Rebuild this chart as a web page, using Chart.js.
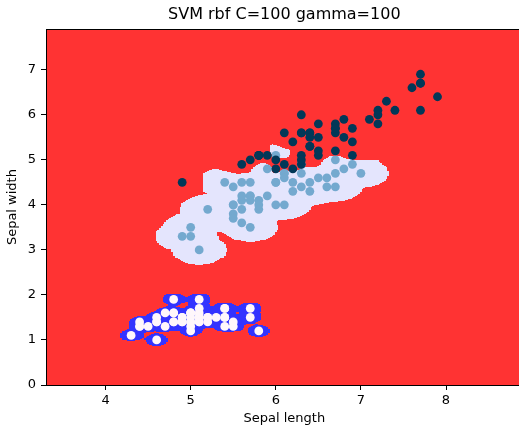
<!DOCTYPE html>
<html><head><meta charset="utf-8">
<script src="https://cdn.jsdelivr.net/npm/chart.js@4/dist/chart.umd.min.js"></script>
<style>
html,body{margin:0;padding:0;background:#fff;overflow:hidden;width:519px;height:427px}
#wrap{width:527px;height:427px}
canvas{display:block}
</style></head><body>
<div id="wrap"><canvas id="c" width="527" height="427"></canvas></div>
<script>
const titleText = 'SVM rbf C=100 gamma=100';
const xLabel = 'Sepal length';
const yLabel = 'Sepal width';
const xTicks = [4, 5, 6, 7, 8];
const yTicks = [0, 1, 2, 3, 4, 5, 6, 7];

const setosaX = [5.1,4.9,4.7,4.6,5.0,5.4,4.6,5.0,4.4,4.9,5.4,4.8,4.8,4.3,5.8,5.7,5.4,5.1,5.7,5.1,5.4,5.1,4.6,5.1,4.8,5.0,5.0,5.2,5.2,4.7,4.8,5.4,5.2,5.5,4.9,5.0,5.5,4.9,4.4,5.1,5.0,4.5,4.4,5.0,5.1,4.8,5.1,4.6,5.3,5.0];
const setosaY = [1.4,1.4,1.3,1.5,1.4,1.7,1.4,1.5,1.4,1.5,1.5,1.6,1.4,1.1,1.2,1.5,1.3,1.4,1.7,1.5,1.7,1.5,1.0,1.7,1.9,1.6,1.6,1.5,1.4,1.6,1.6,1.5,1.5,1.4,1.5,1.2,1.3,1.4,1.3,1.5,1.3,1.3,1.3,1.6,1.9,1.4,1.6,1.4,1.5,1.4];
const versicolorX = [7.0,6.4,6.9,5.5,6.5,5.7,6.3,4.9,6.6,5.2,5.0,5.9,6.0,6.1,5.6,6.7,5.6,5.8,6.2,5.6,5.9,6.1,6.3,6.1,6.4,6.6,6.8,6.7,6.0,5.7,5.5,5.5,5.8,6.0,5.4,6.0,6.7,6.3,5.6,5.5,5.5,6.1,5.8,5.0,5.6,5.7,5.7,6.2,5.1,5.7];
const versicolorY = [4.7,4.5,4.9,4.0,4.6,4.5,4.7,3.3,4.6,3.9,3.5,4.2,4.0,4.7,3.6,4.4,4.5,4.1,4.5,3.9,4.8,4.0,4.9,4.7,4.3,4.4,4.8,5.0,4.5,3.5,3.8,3.7,3.9,5.1,4.5,4.5,4.7,4.4,4.1,4.0,4.4,4.6,4.0,3.3,4.2,4.2,4.2,4.3,3.0,4.1];
const virginicaX = [6.3,5.8,7.1,6.3,6.5,7.6,4.9,7.3,6.7,7.2,6.5,6.4,6.8,5.7,5.8,6.4,6.5,7.7,7.7,6.0,6.9,5.6,7.7,6.3,6.7,7.2,6.2,6.1,6.4,7.2,7.4,7.9,6.4,6.3,6.1,7.7,6.3,6.4,6.0,6.9,6.7,6.9,5.8,6.8,6.7,6.7,6.3,6.5,6.2,5.9];
const virginicaY = [6.0,5.1,5.9,5.6,5.8,6.6,4.5,6.3,5.8,6.1,5.1,5.3,5.5,5.0,5.1,5.3,5.5,6.7,6.9,5.0,5.7,4.9,6.7,4.9,5.7,6.0,4.8,4.9,5.6,5.8,6.1,6.4,5.6,5.1,5.6,6.1,5.6,5.5,4.8,5.4,5.6,5.1,5.1,5.9,5.7,5.2,5.0,5.2,5.4,5.1];

const C_PARAM = 100;
const GAMMA = 100;
const STEP = 0.02;
const X_MIN = 3.3, X_MAX = 8.9, Y_MIN = 0, Y_MAX = 7.9;

// region colours and point colours (PuBu)
const regionColors = [[51,51,255],[228,229,253],[255,51,51]];
const pointColors = ['#fff7fb', '#74a9cf', '#023858'];

// ---- SVM (one-vs-one, libsvm style SMO) trained on the plotted points ----
const allX = [...setosaX, ...versicolorX, ...virginicaX];
const allY = [...setosaY, ...versicolorY, ...virginicaY];
const allC = [...setosaX.map(() => 0), ...versicolorX.map(() => 1), ...virginicaX.map(() => 2)];
const N = allX.length;
const K = new Float64Array(N * N);
for (let i = 0; i < N; i++) for (let j = 0; j < N; j++) {
  const dx = allX[i] - allX[j], dy = allY[i] - allY[j];
  K[i * N + j] = Math.exp(-GAMMA * (dx * dx + dy * dy));
}
function trainPair(ci, cj) {
  const idx = [], yl = [];
  for (let t = 0; t < N; t++) {
    if (allC[t] === ci) { idx.push(t); yl.push(1); }
    else if (allC[t] === cj) { idx.push(t); yl.push(-1); }
  }
  const n = idx.length, a = new Float64Array(n), G = new Float64Array(n).fill(-1);
  const Kl = (p, q) => K[idx[p] * N + idx[q]];
  const Cc = C_PARAM;
  for (let iter = 0; iter < 500000; iter++) {
    let Gmax = -Infinity, i = -1;
    for (let t = 0; t < n; t++) {
      const up = yl[t] === 1 ? a[t] < Cc : a[t] > 0;
      if (up) { const v = -yl[t] * G[t]; if (v >= Gmax) { Gmax = v; i = t; } }
    }
    if (i < 0) break;
    let Gmax2 = -Infinity, j = -1, objMin = Infinity;
    for (let t = 0; t < n; t++) {
      const low = yl[t] === 1 ? a[t] > 0 : a[t] < Cc;
      if (low) {
        const v = yl[t] * G[t];
        if (v >= Gmax2) Gmax2 = v;
        const b = Gmax + v;
        if (b > 0) {
          let q = 2 - 2 * Kl(i, t); if (q <= 0) q = 1e-12;
          const o = -b * b / q;
          if (o <= objMin) { objMin = o; j = t; }
        }
      }
    }
    if (Gmax + Gmax2 < 1e-3 || j < 0) break;
    let q = 2 - 2 * Kl(i, j); if (q <= 0) q = 1e-12;
    const b = -yl[i] * G[i] + yl[j] * G[j];
    const ai0 = a[i], aj0 = a[j];
    const s = yl[i] * ai0 + yl[j] * aj0;
    let ai = Math.min(Cc, Math.max(0, ai0 + yl[i] * b / q));
    let aj = Math.min(Cc, Math.max(0, yl[j] * (s - yl[i] * ai)));
    ai = Math.min(Cc, Math.max(0, yl[i] * (s - yl[j] * aj)));
    if (ai < 1e-12) ai = 0; if (aj < 1e-12) aj = 0;
    if (ai > Cc - 1e-12) ai = Cc; if (aj > Cc - 1e-12) aj = Cc;
    const dai = ai - ai0, daj = aj - aj0;
    a[i] = ai; a[j] = aj;
    for (let t = 0; t < n; t++) {
      G[t] += yl[t] * yl[i] * Kl(t, i) * dai + yl[t] * yl[j] * Kl(t, j) * daj;
    }
  }
  let ub = Infinity, lb = -Infinity, sum = 0, nf = 0;
  for (let t = 0; t < n; t++) {
    const yG = yl[t] * G[t];
    if (a[t] >= Cc) { if (yl[t] === -1) ub = Math.min(ub, yG); else lb = Math.max(lb, yG); }
    else if (a[t] <= 0) { if (yl[t] === 1) ub = Math.min(ub, yG); else lb = Math.max(lb, yG); }
    else { sum += yG; nf++; }
  }
  const rho = nf > 0 ? sum / nf : (ub + lb) / 2;
  const coef = new Float64Array(N);
  for (let t = 0; t < n; t++) coef[idx[t]] = a[t] * yl[t];
  return { ci, cj, coef, rho };
}
let regionGrid = null, gridNx = 0, gridNy = 0;
function computeGrid() {
  const models = [trainPair(0, 1), trainPair(0, 2), trainPair(1, 2)];
  gridNx = Math.ceil((X_MAX - X_MIN) / STEP - 1e-9);
  gridNy = Math.ceil((Y_MAX - Y_MIN) / STEP - 1e-9);
  const Z = new Uint8Array(gridNx * gridNy);
  const dec = new Float64Array(3);
  for (let gy = 0; gy < gridNy; gy++) {
    const yv = Y_MIN + gy * STEP;
    for (let gx = 0; gx < gridNx; gx++) {
      const xv = X_MIN + gx * STEP;
      dec[0] = -models[0].rho; dec[1] = -models[1].rho; dec[2] = -models[2].rho;
      for (let t = 0; t < N; t++) {
        const dx = allX[t] - xv, dy = allY[t] - yv, d2 = dx * dx + dy * dy;
        if (d2 > 0.4) continue;
        const k = Math.exp(-GAMMA * d2);
        dec[0] += models[0].coef[t] * k;
        dec[1] += models[1].coef[t] * k;
        dec[2] += models[2].coef[t] * k;
      }
      const votes = [0, 0, 0];
      for (let p = 0; p < 3; p++) { if (dec[p] > 0) votes[models[p].ci]++; else votes[models[p].cj]++; }
      let best = 0; for (let c = 1; c < 3; c++) if (votes[c] > votes[best]) best = c;
      Z[gy * gridNx + gx] = best;
    }
  }
  regionGrid = Z;
}

const regionPlugin = {
  id: 'regions',
  beforeDatasetsDraw(chart) {
    const { ctx, chartArea: ar, scales: { x, y } } = chart;
    if (!regionGrid) computeGrid();
    const L = Math.floor(ar.left), T = Math.floor(ar.top);
    const W = Math.ceil(ar.right) - L, H = Math.ceil(ar.bottom) - T;
    const img = ctx.createImageData(W, H);
    for (let py = 0; py < H; py++) {
      const yv = y.getValueForPixel(T + py + 0.5);
      let gy = Math.round((yv - Y_MIN) / STEP); gy = Math.max(0, Math.min(gridNy - 1, gy));
      for (let px = 0; px < W; px++) {
        const xv = x.getValueForPixel(L + px + 0.5);
        let gx = Math.round((xv - X_MIN) / STEP); gx = Math.max(0, Math.min(gridNx - 1, gx));
        const col = regionColors[regionGrid[gy * gridNx + gx]];
        const o = (py * W + px) * 4;
        img.data[o] = col[0]; img.data[o + 1] = col[1]; img.data[o + 2] = col[2]; img.data[o + 3] = 255;
      }
    }
    ctx.putImageData(img, L, T);
  },
  afterDatasetsDraw(chart) {
    const { ctx, chartArea: ar } = chart;
    ctx.save();
    ctx.strokeStyle = '#000';
    ctx.lineWidth = 1;
    const l = Math.round(ar.left) + 0.5, t = Math.round(ar.top) + 0.5;
    const r = Math.round(ar.right) - 0.5, b = Math.round(ar.bottom) + 0.5;
    ctx.strokeRect(l, t, r - l, b - t);
    ctx.restore();
  }
};

const fontFam = "'DejaVu Sans', sans-serif";
const mk = (xs, ys, color, order) => ({
  data: xs.map((v, i) => ({ x: v, y: ys[i] })),
  backgroundColor: color, borderWidth: 0, pointRadius: 4.4, pointHoverRadius: 4.4, order
});

new Chart(document.getElementById('c'), {
  type: 'scatter',
  data: {
    datasets: [
      mk(setosaX, setosaY, pointColors[0], 3),
      mk(versicolorX, versicolorY, pointColors[1], 2),
      mk(virginicaX, virginicaY, pointColors[2], 1)
    ]
  },
  options: {
    responsive: false, animation: false, devicePixelRatio: 1,
    layout: { padding: { left: 0, right: 2, top: 0, bottom: 0 } },
    plugins: {
      legend: { display: false }, tooltip: { enabled: false },
      title: { display: true, text: titleText, fullSize: false, color: '#000',
        font: { family: fontFam, size: 16, weight: 'normal' }, padding: { top: 5, bottom: 5 } }
    },
    scales: {
      x: {
        type: 'linear', min: X_MIN, max: X_MAX,
        afterBuildTicks: s => { s.ticks = xTicks.map(v => ({ value: v })); },
        afterFit: s => { s.height = 42; },
        grid: { display: true, drawOnChartArea: false, drawTicks: true, tickLength: 5, color: '#000', lineWidth: 1 },
        border: { display: false },
        ticks: { color: '#000', font: { family: fontFam, size: 13 }, padding: 3, maxRotation: 0, callback: v => String(v) },
        title: { display: true, text: xLabel, color: '#000', font: { family: fontFam, size: 13 }, padding: { top: 0, bottom: 1 } }
      },
      y: {
        type: 'linear', min: Y_MIN, max: Y_MAX,
        afterBuildTicks: s => { s.ticks = yTicks.map(v => ({ value: v })); },
        afterFit: s => { s.width = 46; },
        grid: { display: true, drawOnChartArea: false, drawTicks: true, tickLength: 5, color: '#000', lineWidth: 1 },
        border: { display: false },
        ticks: { color: '#000', font: { family: fontFam, size: 13 }, padding: 5, callback: v => String(v) },
        title: { display: true, text: yLabel, color: '#000', font: { family: fontFam, size: 13 }, padding: { top: 5, bottom: 0 } }
      }
    }
  },
  plugins: [regionPlugin]
});
</script>
</body></html>
